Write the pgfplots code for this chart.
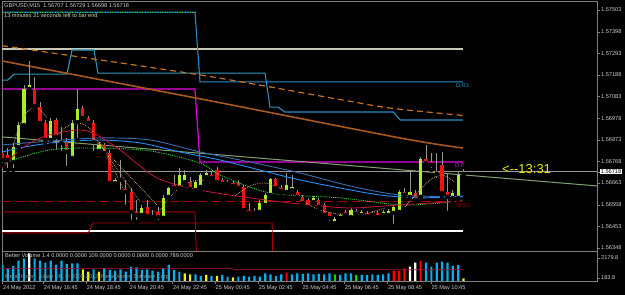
\documentclass[border=0pt]{standalone}
\usepackage{fontspec}
\setmainfont{Liberation Sans}
\usepackage{pgfplots}
\usepackage{pgfplotstable}
\pgfplotsset{compat=1.18}
\definecolor{axgray}{RGB}{128,128,128}
\definecolor{lblgray}{RGB}{205,205,205}
\definecolor{bullc}{RGB}{170,240,40}
\definecolor{bearc}{RGB}{240,20,20}
\definecolor{wickc}{RGB}{150,150,150}
\definecolor{magc}{RGB}{230,0,230}
\definecolor{rblue}{RGB}{40,140,195}
\definecolor{dotgreen}{RGB}{60,220,60}
\definecolor{orangec}{RGB}{200,115,35}
\definecolor{brownc}{RGB}{170,88,28}
\definecolor{trendc}{RGB}{130,160,110}
\definecolor{dkred}{RGB}{175,0,0}
\definecolor{hgray}{RGB}{200,200,185}
\definecolor{curgray}{RGB}{150,150,150}
\definecolor{volblue}{RGB}{0,176,240}
\definecolor{volyellow}{RGB}{240,240,0}
\definecolor{volred}{RGB}{255,0,0}
\definecolor{volgreen}{RGB}{0,220,0}
\definecolor{volma}{RGB}{165,20,60}
\definecolor{ma1}{RGB}{30,144,255}
\definecolor{ma2}{RGB}{60,110,170}
\definecolor{ma3}{RGB}{60,220,60}
\definecolor{ma4}{RGB}{195,20,60}
\definecolor{tanc}{RGB}{200,160,90}
\newcommand{\sm}{\fontsize{5.6}{6}\selectfont}

\pgfplotstableread{
k o h l c
2 1.56765 1.56858 1.56726 1.56838
3 1.56838 1.56959 1.56824 1.56945
4 1.56945 1.57139 1.56935 1.57120
5 1.57120 1.57256 1.57100 1.57139
9 1.56872 1.56979 1.56848 1.56964
13 1.56785 1.56969 1.56775 1.56955
14 1.56959 1.57120 1.56872 1.57023
18 1.56819 1.56862 1.56809 1.56848
21 1.56663 1.56688 1.56654 1.56678
26 1.56508 1.56557 1.56498 1.56542
30 1.56494 1.56605 1.56484 1.56591
31 1.56596 1.56644 1.56591 1.56639
33 1.56639 1.56736 1.56629 1.56702
34 1.56668 1.56726 1.56654 1.56702
36 1.56629 1.56678 1.56620 1.56668
37 1.56644 1.56712 1.56629 1.56702
38 1.56692 1.56726 1.56678 1.56712
42 1.56659 1.56678 1.56649 1.56668
47 1.56518 1.56542 1.56508 1.56527
48 1.56523 1.56581 1.56518 1.56566
49 1.56557 1.56615 1.56547 1.56605
50 1.56605 1.56688 1.56596 1.56683
53 1.56620 1.56712 1.56615 1.56654
54 1.56629 1.56702 1.56620 1.56644
58 1.56571 1.56600 1.56562 1.56591
62 1.56469 1.56498 1.56460 1.56489
63 1.56494 1.56518 1.56484 1.56508
65 1.56498 1.56542 1.56489 1.56532
67 1.56508 1.56532 1.56498 1.56523
69 1.56508 1.56527 1.56498 1.56518
71 1.56508 1.56532 1.56498 1.56523
72 1.56508 1.56537 1.56503 1.56527
73 1.56518 1.56557 1.56455 1.56547
74 1.56523 1.56629 1.56518 1.56620
76 1.56596 1.56726 1.56591 1.56620
78 1.56596 1.56790 1.56591 1.56780
84 1.56591 1.56629 1.56581 1.56615
85 1.56591 1.56717 1.56581 1.56702
86 1.56707 1.56729 1.56698 1.56718
}\bulltab

\pgfplotstableread{
k o h l c
0 1.56809 1.56824 1.56751 1.56775
1 1.56799 1.56833 1.56726 1.56775
6 1.57120 1.57178 1.57027 1.57037
7 1.57032 1.57057 1.56945 1.56955
8 1.56955 1.56969 1.56862 1.56872
10 1.56969 1.56979 1.56814 1.56887
11 1.56872 1.56935 1.56809 1.56858
12 1.56862 1.56882 1.56736 1.56814
15 1.57027 1.57037 1.56969 1.56979
16 1.56979 1.56989 1.56945 1.56955
17 1.56955 1.56969 1.56809 1.56862
19 1.56848 1.56858 1.56799 1.56809
20 1.56809 1.56824 1.56654 1.56663
22 1.56688 1.56775 1.56620 1.56678
23 1.56634 1.56678 1.56547 1.56620
24 1.56620 1.56639 1.56474 1.56523
25 1.56523 1.56581 1.56474 1.56508
27 1.56547 1.56581 1.56498 1.56503
28 1.56508 1.56532 1.56484 1.56498
29 1.56523 1.56547 1.56474 1.56498
32 1.56654 1.56702 1.56629 1.56639
35 1.56668 1.56692 1.56629 1.56634
39 1.56702 1.56717 1.56668 1.56688
40 1.56726 1.56741 1.56659 1.56668
41 1.56678 1.56688 1.56649 1.56659
43 1.56663 1.56673 1.56639 1.56649
44 1.56668 1.56678 1.56629 1.56639
45 1.56644 1.56654 1.56523 1.56532
46 1.56532 1.56566 1.56508 1.56518
51 1.56683 1.56688 1.56620 1.56639
52 1.56639 1.56654 1.56615 1.56625
55 1.56620 1.56629 1.56591 1.56596
56 1.56596 1.56605 1.56557 1.56566
57 1.56581 1.56591 1.56537 1.56547
59 1.56581 1.56591 1.56537 1.56547
60 1.56557 1.56566 1.56498 1.56508
61 1.56518 1.56523 1.56469 1.56494
64 1.56523 1.56532 1.56498 1.56508
66 1.56527 1.56537 1.56503 1.56513
68 1.56518 1.56527 1.56494 1.56503
70 1.56518 1.56527 1.56489 1.56498
75 1.56620 1.56639 1.56596 1.56605
77 1.56615 1.56629 1.56571 1.56581
79 1.56780 1.56848 1.56751 1.56760
80 1.56765 1.56809 1.56726 1.56751
81 1.56722 1.56809 1.56678 1.56707
82 1.56751 1.56814 1.56596 1.56615
83 1.56620 1.56712 1.56518 1.56596
}\beartab

\begin{document}
\begin{tikzpicture}[x=1pt,y=1pt]
\fill[black] (0,0) rectangle (625,295);
\begin{axis}[
  at={(2pt,44pt)}, anchor=south west,
  width=595pt, height=250pt, scale only axis,
  xmin=-0.09, xmax=110.9, ymin=1.56333, ymax=1.57547,
  enlargelimits=false,
  axis line style={axgray},
  xtick=\empty,
  ytick={1.56348,1.56453,1.56558,1.56663,1.56768,1.56873,1.56978,1.57083,1.57188,1.57293,1.57398,1.57503},
  yticklabels={1.56348,1.56453,1.56558,1.56663,1.56768,1.56873,1.56978,1.57083,1.57188,1.57293,1.57398,1.57503},
  ytick pos=right, yticklabel pos=right,
  tick align=outside, major tick length=3pt,
  ytick style={axgray},
  yticklabel style={font=\sm, text=lblgray, inner sep=1pt},
  extra y ticks={1.56718}, extra y tick labels={1.56718},
  extra y tick style={yticklabel style={fill=white, text=black, inner sep=0.7pt}},
]
% horizontal levels
\addplot[hgray, line width=1.5pt] coordinates {(-0.09,1.57314) (85.9,1.57314)};
\addplot[white, line width=1.6pt] coordinates {(-0.09,1.56430) (85.9,1.56430)};
\addplot[dkred, line width=0.9pt, dash pattern=on 9pt off 5pt] coordinates {(-0.09,1.56576) (85.9,1.56576)};
\addplot[dkred, line width=0.9pt] coordinates {(-0.09,1.56523) (35.9,1.56523) (36.5,1.56096)};
\addplot[dkred, line width=0.9pt] coordinates {(-0.09,1.56421) (16.0,1.56421) (16.9,1.56469) (50.3,1.56469) (50.5,1.56096)};
\addplot[magc, line width=1.2pt] coordinates {(-0.09,1.57120) (35.9,1.57120) (36.85,1.56765) (85.9,1.56765)};
\addplot[rblue, line width=1.1pt] coordinates {(-0.09,1.57493) (35.9,1.57493) (36.85,1.57154) (85.9,1.57154)};
\addplot[dotgreen, line width=0.5pt, dotted] coordinates {(-0.09,1.57493) (35.9,1.57493)};
\addplot[rblue, line width=1.1pt] coordinates {(-0.09,1.57163) (1.0,1.57163) (2.15,1.57192) (12.03,1.57192) (12.97,1.57309) (17.07,1.57309) (17.8,1.57197) (48.97,1.57197) (49.9,1.57032) (51.4,1.57032) (52.7,1.57008) (72.9,1.57008) (74.2,1.56969) (85.9,1.56969)};
\addplot[dotgreen, line width=0.5pt, dotted] coordinates {(-0.09,1.57163) (1.0,1.57163) (2.15,1.57192) (12.03,1.57192) (12.97,1.57309) (17.07,1.57309) (17.8,1.57197) (48.97,1.57197)};
\addplot[orangec, line width=1.2pt, dash pattern=on 6pt off 4pt, smooth] coordinates {(-0.09,1.57330) (36.85,1.57188) (63.5,1.57066) (72.3,1.57027) (85.9,1.56991)};
\addplot[brownc, line width=1.6pt, smooth] coordinates {(-0.09,1.57256) (36.66,1.57073) (74.16,1.56882) (85.9,1.56833)};
\addplot[trendc, line width=1pt] coordinates {(-0.09,1.56887) (110.9,1.56649)};
\addplot[curgray, line width=0.6pt] coordinates {(-0.09,1.56718) (110.9,1.56718)};
% candles
\addplot[only marks, mark=none, error bars/.cd, y dir=plus, y explicit, error mark=none,
  error bar style={line width=0.8pt, draw=wickc}] table[x=k, y=l, y error plus expr=\thisrow{h}-\thisrow{l}] {\bulltab};
\addplot[only marks, mark=none, error bars/.cd, y dir=plus, y explicit, error mark=none,
  error bar style={line width=0.8pt, draw=wickc}] table[x=k, y=l, y error plus expr=\thisrow{h}-\thisrow{l}] {\beartab};
\addplot[only marks, mark=none, error bars/.cd, y dir=plus, y explicit, error mark=none,
  error bar style={line width=3.2pt, draw=bullc}] table[x=k, y=o, y error plus expr=\thisrow{c}-\thisrow{o}] {\bulltab};
\addplot[only marks, mark=none, error bars/.cd, y dir=plus, y explicit, error mark=none,
  error bar style={line width=3.2pt, draw=bearc}] table[x=k, y=c, y error plus expr=\thisrow{o}-\thisrow{c}] {\beartab};
% moving averages
\addplot[ma2, line width=0.9pt, smooth] coordinates {(-0.09,1.56848) (8.86,1.56867) (18.19,1.56882) (27.52,1.56872) (36.85,1.56814) (46.18,1.56765) (55.5,1.56712) (64.83,1.56649) (74.16,1.56605) (85.91,1.56596)};
\addplot[ma1, line width=0.9pt, smooth] coordinates {(-0.09,1.56814) (5.13,1.56843) (10.73,1.56862) (18.19,1.56872) (25.65,1.56858) (33.12,1.56814) (40.58,1.56775) (48.04,1.56726) (55.5,1.56678) (62.97,1.56639) (70.43,1.56605) (77.89,1.56591) (85.91,1.56600)};
\addplot[ma3, line width=0.9pt, densely dotted, smooth] coordinates {(-0.09,1.56751) (1.96,1.56775) (8.86,1.56824) (16.88,1.56833) (27.52,1.56819) (36.85,1.56760) (40.58,1.56702) (49.91,1.56615) (62.97,1.56591) (74.16,1.56557) (81.62,1.56566) (85.91,1.56581)};
\addplot[ma4, line width=0.8pt, smooth] coordinates {(-0.09,1.56736) (3.26,1.56824) (7.56,1.56887) (13.9,1.56921) (17.26,1.56901) (21.92,1.56824) (28.82,1.56688) (36.85,1.56629) (46.18,1.56591) (55.5,1.56561) (64.83,1.56542) (74.16,1.56557) (85.91,1.56576)};
% dotted arcs and fans
\addplot[tanc, line width=0.8pt, densely dotted, smooth] coordinates {(1.77,1.56824) (2.89,1.56921) (4.2,1.56993) (5.5,1.57027) (7.0,1.57018) (8.3,1.56979)};
\addplot[tanc, line width=0.8pt, densely dotted, smooth] coordinates {(9.79,1.56882) (11.66,1.56930) (13.53,1.56955) (15.39,1.56945) (16.88,1.56911)};
\addplot[tanc, line width=0.8pt, densely dotted] coordinates {(16.88,1.56882) (28.82,1.56557)};
\addplot[tanc, line width=0.8pt, densely dotted] coordinates {(17.63,1.56872) (25.65,1.56571)};
\addplot[tanc, line width=0.8pt, densely dotted] coordinates {(18.19,1.56862) (22.67,1.56629)};
\addplot[tanc, line width=0.8pt, densely dotted, smooth] coordinates {(29.38,1.56532) (31.62,1.56605) (34.05,1.56659) (36.85,1.56678) (39.09,1.56663)};
\addplot[tanc, line width=0.8pt, densely dotted, smooth] coordinates {(43.38,1.56600) (46.18,1.56649) (48.97,1.56663) (51.77,1.56639)};
\addplot[tanc, line width=0.8pt, densely dotted, smooth] coordinates {(55.5,1.56581) (59.24,1.56532) (63.9,1.56508) (67.63,1.56513) (71.36,1.56542)};
\addplot[tanc, line width=0.8pt, densely dotted, smooth] coordinates {(75.09,1.56547) (77.52,1.56620) (79.76,1.56678) (81.99,1.56702) (84.42,1.56668)};
\end{axis}

\begin{axis}[
  at={(2pt,14pt)}, anchor=south west,
  width=595pt, height=30pt, scale only axis,
  xmin=-0.09, xmax=110.9, ymin=0, ymax=3000,
  enlargelimits=false,
  axis line style={axgray},
  xtick={0,7.6,15.6,23.65,31.7,39.65,47.7,55.85,63.75,71.8,79.9},
  xticklabels={24 May 2012,24 May 16:45,24 May 18:45,24 May 20:45,24 May 22:45,25 May 00:45,25 May 02:45,25 May 04:45,25 May 06:45,25 May 08:45,25 May 10:45},
  xtick pos=bottom, tick align=outside, major tick length=3pt,
  xtick style={axgray}, ytick style={axgray},
  xticklabel style={font=\sm, text=lblgray, anchor=north west, inner sep=1pt, xshift=-0.5pt},
  ytick={300,2300}, yticklabels={183.8,2179.8},
  ytick pos=right, yticklabel pos=right,
  yticklabel style={font=\sm, text=lblgray, inner sep=1pt},
]
\addplot[ybar, bar width=2.2pt, fill=volblue, draw=none] coordinates {(0,1600)(1,1270)(2,1500)(3,2030)(4,2270)(6,2270)(7,2030)(8,1830)(9,2030)(10,1600)(11,2030)(12,1700)(13,1770)(14,1770)(17,1170)(19,1270)(20,1100)(21,1030)(22,1170)(23,930)(24,1430)(25,1370)(26,1100)(27,1170)(28,1030)(29,930)(30,1270)(31,1600)(32,1100)(33,930)(36,670)(37,500)(39,500)(41,600)(42,430)(44,430)(45,500)(46,430)(47,500)(48,430)(49,770)(50,670)(51,500)(52,670)(54,670)(55,770)(56,700)(57,770)(58,670)(59,700)(60,670)(61,770)(63,600)(64,770)(65,770)(67,600)(68,600)(69,670)(70,600)(71,670)(72,770)(79,1830)(80,1430)(81,1830)(82,1930)(83,1830)(84,1500)(85,1600)};
\addplot[ybar, bar width=2.2pt, fill=volyellow, draw=none] coordinates {(15,1170)(16,930)(18,930)(34,770)(35,670)(38,600)(40,500)(43,370)(86,270)};
\addplot[ybar, bar width=2.2pt, fill=volred, draw=none] coordinates {(53,830)(73,1030)(74,1030)(75,1270)(78,2030)};
\addplot[ybar, bar width=2.2pt, fill=white, draw=none] coordinates {(5,2770)(76,1430)(77,1830)};
\addplot[ybar, bar width=2.2pt, fill=volgreen, draw=none] coordinates {(62,670)(66,600)};
\addplot[volma, line width=0.8pt] coordinates {(-0.09,1270) (42.5,1270) (43.5,1130) (86,1130)};
\end{axis}

\node[anchor=west, inner sep=0pt, text=lblgray, font=\sm] at (4,289) {GBPUSD,M15\ \ 1.56707 1.56729 1.56698 1.56718};
\node[anchor=west, inner sep=0pt, text={rgb,255:red,200;green,215;blue,175}, font=\sm] at (4,280) {13 minutes 31 seconds left to bar end};
\node[anchor=west, inner sep=0pt, text={rgb,255:red,235;green,235;blue,0}, font=\fontsize{13}{14}\selectfont] at (502,126) {<-{}-13:31};
\node[anchor=west, inner sep=0pt, text=rblue, font=\sm] at (456,209) {D:R1};
\node[anchor=west, inner sep=0pt, text=magc, font=\sm] at (455,129) {D:P};
\node[anchor=west, inner sep=0pt, text=dkred, font=\sm] at (456,89) {W:S1};
\node[anchor=west, inner sep=0pt, text=lblgray, font=\sm] at (5,40) {Better Volume 1.4 0.0000 0.0000 109.0000 0.0000 0.0000 0.0000 789.0000};
\node[anchor=west, inner sep=0pt, text={rgb,255:red,150;green,150;blue,150}, font=\sm] at (5,18) {MetaTrader - Alpari UK, © 2001-2012, MetaQuotes Software Corp.};
\pgfresetboundingbox
\useasboundingbox (0,0) rectangle (625,295);
\end{tikzpicture}
\end{document}
